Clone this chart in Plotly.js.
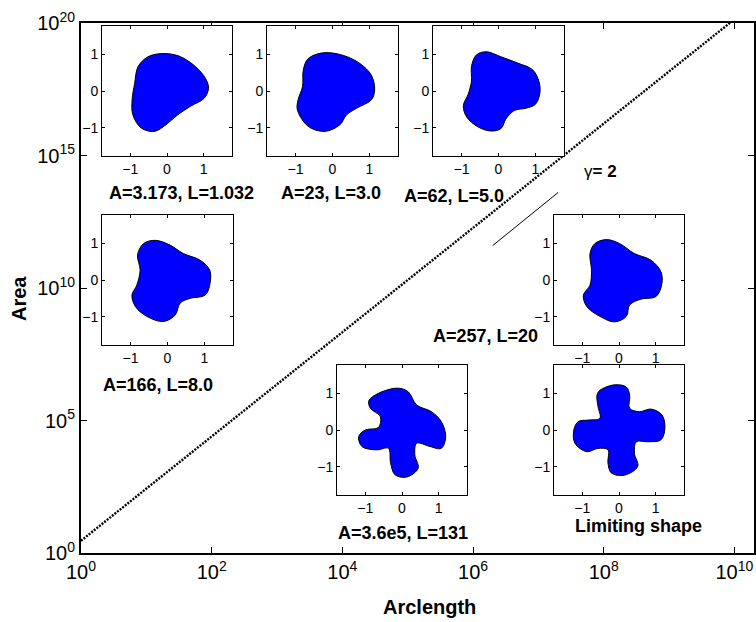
<!DOCTYPE html>
<html>
<head>
<meta charset="utf-8">
<script src="https://cdn.plot.ly/plotly-3.0.1.min.js"></script>
<style>html,body{margin:0;padding:0;background:#fff}#chart{width:756px;height:622px}</style>
</head>
<body>
<div id="chart"></div>
<script>
// ---- main series ----
const arcLength = [1, 10, 100, 1e3, 1e4, 1e5, 1e6, 1e7, 1e8, 1e9, 1e10];
const area = [2.9, 2.7e2, 2.5e4, 2.3e6, 2.15e8, 2.0e10, 1.85e12, 1.72e14, 1.6e16, 1.48e18, 1.38e20];
// slope guide (gamma = 2)
const slopeX = [2e6, 2e7];
const slopeY = [4e11, 4e13];
const slopeLabel = "γ<b>= 2</b>";
// axis titles
const xTitle = "Arclength";
const yTitle = "Area";
// main tick labels
const xTickVals = [1, 1e2, 1e4, 1e6, 1e8, 1e10];
const xTickText = ["10<sup>0</sup>", "10<sup>2</sup>", "10<sup>4</sup>", "10<sup>6</sup>", "10<sup>8</sup>", "10<sup>10</sup>"];
const yTickVals = [1, 1e5, 1e10, 1e15, 1e20];
const yTickText = ["10<sup>0</sup>", "10<sup>5</sup>", "10<sup>10</sup>", "10<sup>15</sup>", "10<sup>20</sup>"];
const insetTicks = [-1, 0, 1];

// ---- inset shapes (outline points) ----
const shape1X = [-0.12, 0.33, 0.78, 1.05, 1.13, 1.01, 0.65, 0.29, -0.03, -0.34, -0.70, -0.93, -0.95, -0.88, -0.79, -0.52];
const shape1Y = [1.02, 0.95, 0.66, 0.34, 0.07, -0.20, -0.41, -0.65, -0.92, -1.10, -1.01, -0.65, -0.24, 0.21, 0.66, 0.93];
const shape2X = [-0.25, 0.29, 0.74, 1.05, 1.14, 1.05, 0.65, 0.38, 0.20, -0.21, -0.66, -0.95, -0.93, -0.81, -0.79, -0.66];
const shape2Y = [1.04, 0.97, 0.75, 0.43, 0.03, -0.24, -0.47, -0.65, -0.92, -1.10, -0.96, -0.51, -0.24, 0.12, 0.57, 0.88];
const shape3X = [-0.33, 0.07, 0.52, 0.92, 1.09, 1.12, 1.00, 0.74, 0.43, 0.20, 0.07, -0.20, -0.55, -0.86, -0.95, -0.82, -0.73, -0.73, -0.60];
const shape3Y = [1.07, 0.93, 0.76, 0.58, 0.27, -0.04, -0.36, -0.47, -0.53, -0.76, -1.02, -1.09, -0.98, -0.71, -0.40, -0.09, 0.27, 0.67, 0.98];
const shape4X = [-0.33, 0.07, 0.43, 0.88, 1.14, 1.15, 1.02, 0.61, 0.34, 0.21, -0.11, -0.56, -0.87, -0.96, -0.83, -0.74, -0.81, -0.65];
const shape4Y = [1.08, 0.95, 0.72, 0.54, 0.27, -0.09, -0.41, -0.50, -0.63, -0.95, -1.13, -0.99, -0.72, -0.41, -0.14, 0.27, 0.68, 0.99];
const shape5X = [-0.34, 0.02, 0.42, 0.87, 1.14, 1.17, 1.01, 0.60, 0.29, 0.20, -0.12, -0.52, -0.88, -0.97, -0.79, -0.75, -0.79, -0.66];
const shape5Y = [1.10, 0.99, 0.72, 0.54, 0.23, -0.09, -0.45, -0.52, -0.68, -0.99, -1.14, -0.99, -0.72, -0.41, -0.14, 0.27, 0.72, 0.99];
const shape6X = [-0.86, -0.55, -0.10, 0.17, 0.40, 0.80, 1.07, 1.19, 1.07, 0.76, 0.40, 0.35, 0.44, 0.13, -0.19, -0.31, -0.37, -0.68, -1.09, -1.18, -1.00, -0.64, -0.59, -0.86, -0.91];
const shape6Y = [0.86, 1.04, 1.14, 1.04, 0.68, 0.50, 0.23, -0.18, -0.50, -0.45, -0.36, -0.68, -1.04, -1.28, -1.22, -0.90, -0.50, -0.54, -0.45, -0.18, 0.00, 0.07, 0.36, 0.59, 0.77];
const shape7X = [-0.52, -0.12, 0.20, 0.29, 0.29, 0.56, 0.87, 1.17, 1.25, 1.14, 0.78, 0.47, 0.42, 0.51, 0.15, -0.21, -0.30, -0.30, -0.57, -0.88, -1.20, -1.23, -1.11, -0.84, -0.52, -0.57, -0.60];
const shape7Y = [1.08, 1.23, 1.17, 0.95, 0.59, 0.50, 0.57, 0.41, 0.05, -0.27, -0.32, -0.32, -0.63, -0.99, -1.23, -1.17, -0.90, -0.54, -0.50, -0.59, -0.36, 0.00, 0.23, 0.27, 0.32, 0.63, 0.95];
const insetLabels = ["A=3.173, L=1.032", "A=23, L=3.0", "A=62, L=5.0", "A=166, L=8.0", "A=257, L=20", "A=3.6e5, L=131", "Limiting shape"];

// ---- layout geometry (pixels) ----
const PL = 81, PR = 754, PT = 23, PB = 553;
const fx = x => (x - PL) / (PR - PL);
const fy = y => (PB - y) / (PB - PT);
const insetBoxes = [
  [102, 232, 26, 156],
  [267, 398, 26, 156],
  [433, 564, 26, 156],
  [102, 233, 215, 345],
  [554, 684, 215, 345],
  [337, 467, 365, 495],
  [554, 684, 365, 495]
];
const labelPos = [[181, 193], [331, 193], [454, 196], [158, 385], [485, 336], [403, 533], [638, 526]];
const shapesX = [shape1X, shape2X, shape3X, shape4X, shape5X, shape6X, shape7X];
const shapesY = [shape1Y, shape2Y, shape3Y, shape4Y, shape5Y, shape6Y, shape7Y];

const FONT = "Liberation Sans, Arial, Helvetica, sans-serif";
const traces = [
  {x: arcLength, y: area, type: 'scatter', mode: 'lines', xaxis: 'x', yaxis: 'y',
   line: {color: '#000', width: 2.4, dash: '2px,1.3px'}, hoverinfo: 'skip'},
  {x: slopeX, y: slopeY, type: 'scatter', mode: 'lines', xaxis: 'x', yaxis: 'y',
   line: {color: '#000', width: 1}, hoverinfo: 'skip'}
];

const layout = {
  width: 756, height: 622,
  margin: {l: PL, r: 756 - PR, t: PT, b: 622 - PB},
  paper_bgcolor: '#fff', plot_bgcolor: '#fff',
  showlegend: false,
  font: {family: FONT, color: '#000'},
  xaxis: {type: 'log', range: [0, 10.3], tickvals: xTickVals, ticktext: xTickText,
    ticks: 'inside', ticklen: 6, tickwidth: 1, tickcolor: '#000',
    showline: true, linewidth: 2, linecolor: '#000', mirror: 'ticks',
    showgrid: false, zeroline: false, tickfont: {size: 20, family: FONT}},
  yaxis: {type: 'log', range: [0, 20], tickvals: yTickVals, ticktext: yTickText,
    ticks: 'inside', ticklen: 6, tickwidth: 1, tickcolor: '#000',
    showline: true, linewidth: 2, linecolor: '#000', mirror: 'ticks',
    showgrid: false, zeroline: false, tickfont: {size: 20, family: FONT}},
  annotations: [
    {x: fx(600), y: fy(171), xref: 'paper', yref: 'paper', text: slopeLabel, showarrow: false,
     font: {size: 17, family: FONT}, xanchor: 'center', yanchor: 'middle'},
    {x: fx(429), y: fy(607), xref: 'paper', yref: 'paper', text: xTitle, showarrow: false,
     font: {size: 20, weight: 'bold', family: FONT}, xanchor: 'center', yanchor: 'middle'},
    {x: fx(19), y: fy(298), xref: 'paper', yref: 'paper', text: yTitle, showarrow: false, textangle: -90,
     font: {size: 20, weight: 'bold', family: FONT}, xanchor: 'center', yanchor: 'middle'}
  ]
};

insetBoxes.forEach((b, i) => {
  const n = i + 2;
  const xa = 'xaxis' + n, ya = 'yaxis' + n;
  const common = {range: [-1.77, 1.77], tickvals: insetTicks, ticks: 'inside', ticklen: 3,
    tickcolor: '#000', tickwidth: 1, showline: true, linewidth: 1, linecolor: '#000',
    mirror: 'ticks', showgrid: false, zeroline: false, tickfont: {size: 14, family: FONT}};
  layout[xa] = Object.assign({}, common, {domain: [fx(b[0]), fx(b[1])], anchor: 'y' + n});
  layout[ya] = Object.assign({}, common, {domain: [fy(b[3]), fy(b[2])], anchor: 'x' + n});
  const sx = shapesX[i].concat([shapesX[i][0]]);
  const sy = shapesY[i].concat([shapesY[i][0]]);
  traces.push({x: sx, y: sy, type: 'scatter', mode: 'lines', fill: 'toself',
    fillcolor: '#0000ff', line: {color: '#000', width: 1, shape: 'spline', smoothing: 1},
    xaxis: 'x' + n, yaxis: 'y' + n, hoverinfo: 'skip'});
  layout.annotations.push({x: fx(labelPos[i][0]), y: fy(labelPos[i][1]), xref: 'paper', yref: 'paper',
    text: insetLabels[i], showarrow: false, xanchor: 'center', yanchor: 'middle',
    font: {size: 18, weight: 'bold', family: FONT}});
});

Plotly.newPlot('chart', traces, layout, {staticPlot: true, displayModeBar: false});
</script>
</body>
</html>
